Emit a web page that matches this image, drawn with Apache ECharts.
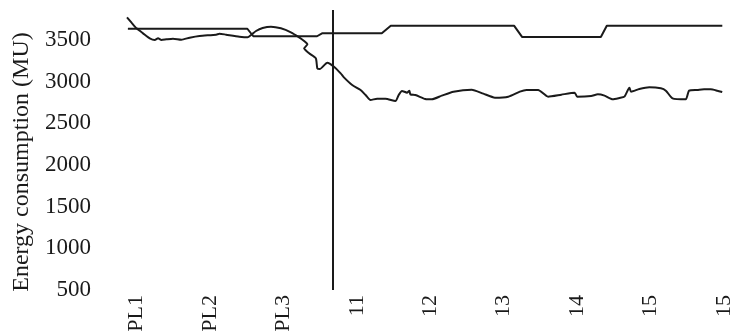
<!DOCTYPE html>
<html>
<head>
<meta charset="utf-8">
<script src="https://cdn.jsdelivr.net/npm/echarts@6/dist/echarts.min.js"></script>
<style>html,body{margin:0;padding:0;background:#fff}#c{width:735px;height:336px}</style>
</head>
<body>
<div id="c"></div>
<script>
// Tick labels (x axis categories, positions 0..8)
const xLabels = ['PL1', 'PL2', 'PL3', '11', '12', '13', '14', '15', '15'];
const yTicks = [500, 1000, 1500, 2000, 2500, 3000, 3500];

// Step line (x in category units, y in MU)
const stepX = [-0.118, 1.509, 1.590, 2.458, 2.526, 3.340, 3.462, 5.143, 5.252, 6.323, 6.404, 7.977];
const stepY = [3635, 3635, 3545, 3545, 3580, 3580, 3670, 3670, 3535, 3535, 3670, 3670];

// Energy consumption curve
const curveX = [-0.13, -0.068, 0, 0.089, 0.180, 0.248, 0.293, 0.339, 0.407, 0.496, 0.610, 0.723, 0.858, 1.085, 1.129, 1.220, 1.401, 1.513, 1.559, 1.627, 1.717, 1.831, 1.966, 2.102, 2.214, 2.282, 2.327, 2.282, 2.350, 2.441, 2.462, 2.495, 2.598, 2.689, 2.780, 2.824, 2.937, 3.051, 3.119, 3.186, 3.276, 3.390, 3.525, 3.570, 3.615, 3.683, 3.715, 3.729, 3.797, 3.932, 4.022, 4.157, 4.316, 4.564, 4.723, 4.881, 5.062, 5.220, 5.310, 5.469, 5.604, 5.784, 5.966, 6.001, 6.191, 6.282, 6.373, 6.485, 6.576, 6.644, 6.712, 6.734, 6.847, 6.983, 7.140, 7.208, 7.299, 7.479, 7.525, 7.637, 7.729, 7.819, 7.908, 7.976];
const curveY = [3772, 3708, 3640, 3580, 3520, 3500, 3520, 3500, 3508, 3516, 3504, 3528, 3548, 3564, 3576, 3564, 3540, 3532, 3560, 3608, 3644, 3660, 3640, 3592, 3532, 3488, 3448, 3400, 3340, 3280, 3160, 3152, 3228, 3180, 3100, 3052, 2960, 2900, 2840, 2780, 2796, 2796, 2768, 2840, 2888, 2868, 2892, 2848, 2840, 2792, 2788, 2832, 2880, 2904, 2856, 2808, 2820, 2880, 2900, 2900, 2820, 2844, 2868, 2820, 2828, 2848, 2832, 2788, 2804, 2820, 2928, 2880, 2912, 2932, 2920, 2892, 2800, 2788, 2892, 2900, 2908, 2908, 2892, 2876];

// Divider position (category units)
const dividerX = 2.675;

const FONT = "'Liberation Serif', 'Times New Roman', serif";
const INK = '#1a1a1a';

const chart = echarts.init(document.getElementById('c'));
chart.setOption({
  animation: false,
  backgroundColor: '#fff',
  grid: { left: 127, right: 8, top: 10, bottom: 46, containLabel: false },
  xAxis: {
    type: 'value', min: -0.13, max: 8.0,
    axisLine: { show: false }, axisTick: { show: false }, splitLine: { show: false },
    axisLabel: {
      customValues: xLabels.map((_, i) => i),
      formatter: v => xLabels[Math.round(v)],
      rotate: 90, margin: 5,
      fontFamily: FONT, fontSize: 22, color: INK
    }
  },
  yAxis: {
    type: 'value', min: 500, max: 3860, interval: 500,
    axisLine: { show: false }, axisTick: { show: false }, splitLine: { show: false },
    axisLabel: {
      formatter: v => yTicks.includes(v) ? String(v) : '',
      margin: 36, fontFamily: FONT, fontSize: 23, color: INK
    },
    name: 'Energy consumption (MU)',
    nameLocation: 'middle', nameGap: 92, nameRotate: 90,
    nameTextStyle: { fontFamily: FONT, fontSize: 24, color: INK, padding: [0, 24, 0, 0] }
  },
  series: [
    {
      type: 'line', data: stepX.map((x, i) => [x, stepY[i]]),
      showSymbol: false, lineStyle: { color: INK, width: 2 },
      markLine: {
        silent: true, symbol: ['none', 'none'], label: { show: false },
        lineStyle: { color: INK, width: 2, type: 'solid' },
        data: [{ xAxis: dividerX }]
      }
    },
    {
      type: 'line', data: curveX.map((x, i) => [x, curveY[i]]),
      showSymbol: false, smooth: 0.2, lineStyle: { color: INK, width: 2 }
    }
  ]
});
</script>
</body>
</html>
